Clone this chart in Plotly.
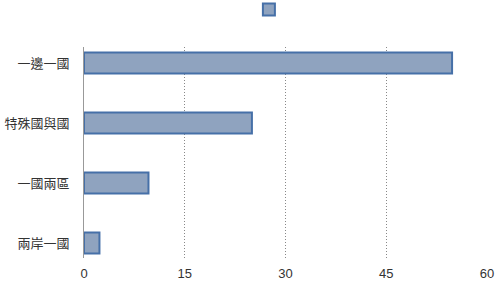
import plotly.graph_objects as go

categories = ["一邊一國", "特殊國與國", "一國兩區", "兩岸一國"]
values = [54.8, 25.0, 9.6, 2.3]
tick_vals = [0, 15, 30, 45, 60]

fig = go.Figure()
fig.add_trace(go.Bar(
    y=categories, x=values, orientation="h", name="",
    width=0.35, showlegend=True,
    marker=dict(color="#8FA3BF", line=dict(color="#4670A8", width=2)),
))

fig.update_layout(
    width=495, height=282,
    margin=dict(l=84, r=8, t=47, b=24, autoexpand=False),
    plot_bgcolor="white", paper_bgcolor="white",
    font=dict(family="Liberation Sans, Arial, Noto Sans CJK TC", size=13, color="#333"),
    showlegend=True,
    legend=dict(orientation="h", x=0.465, xanchor="center", y=1.246, yanchor="top",
                font=dict(size=12), itemwidth=30),
)
fig.update_xaxes(range=[0, 60], tickvals=tick_vals, showgrid=True, griddash="1px,2px",
                 gridcolor="#888", gridwidth=1, zeroline=False, showline=False,
                 ticks="", automargin=False, ticklabelstandoff=6,
                 tickfont=dict(size=13, color="#333"))
fig.update_yaxes(categoryorder="array", categoryarray=categories,
                 range=[3.25, -0.267], showline=True, linecolor="#999", linewidth=1,
                 showgrid=False, ticks="", ticklabelstandoff=11, automargin=False,
                 tickfont=dict(size=13, color="#333"))
fig.write_html("out.html")
